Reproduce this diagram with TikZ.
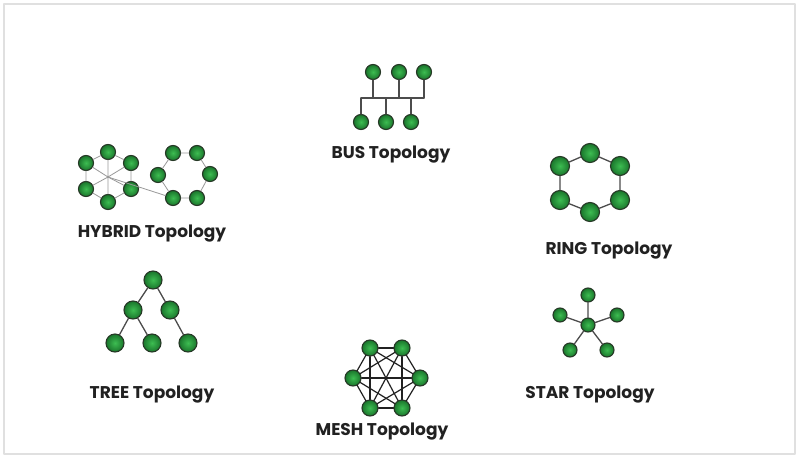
\documentclass[tikz,border=0pt]{standalone}
\usepackage{fontspec}
\setmainfont{Poppins}
\usepackage{tikz}
\usetikzlibrary{calc}
\definecolor{qqaaqq}{rgb}{0.24,0.74,0.32}
\definecolor{qqttqq}{rgb}{0.10,0.46,0.17}
\definecolor{uuuuuu}{rgb}{0.15,0.22,0.15}
\definecolor{wwwwww}{rgb}{0.30,0.30,0.30}
\definecolor{ccccvv}{rgb}{0.60,0.60,0.60}
\definecolor{eeeeee}{rgb}{0.88,0.88,0.88}
\definecolor{tttttt}{rgb}{0.13,0.13,0.13}
\tikzstyle{every node}=[font=\bfseries\fontsize{17}{19}\selectfont,text=tttttt]
\tikzstyle{host}=[circle,draw=uuuuuu,line width=1.1pt,inner sep=0pt,minimum size=15pt,inner color=qqaaqq,outer color=qqttqq]
\tikzstyle{bighost}=[host,minimum size=19pt]
\tikzstyle{wire}=[line width=1.3pt,color=wwwwww]
\tikzstyle{thinwire}=[line width=0.8pt,color=ccccvv]

\begin{document}
\begin{tikzpicture}[line cap=round,line join=round,x=1pt,y=-1pt]
\useasboundingbox (0,0) rectangle (800,461);
\fill[white] (0,0) rectangle (800,461);
\draw[line width=1.6pt,color=eeeeee] (4,4) rectangle (795,454);
% bus
\node[host] (b1) at (373,72) {};
\node[host] (b2) at (399,72) {};
\node[host] (b3) at (424,72) {};
\node[host] (b4) at (361,122) {};
\node[host] (b5) at (386,122) {};
\node[host] (b6) at (411,122) {};
\coordinate (busL) at (361,98);
\coordinate (busR) at (424,98);
\draw[wire] (busL) -- (busR);
\draw[wire] (b1) -- (b1 |- busL);
\draw[wire] (b2) -- (b2 |- busL);
\draw[wire] (b3) -- (b3 |- busL);
\draw[wire] (b4) -- (b4 |- busL);
\draw[wire] (b5) -- (b5 |- busL);
\draw[wire] (b6) -- (b6 |- busL);
\node (busname) at (391,155) {BUS Topology};
% hybrid
\coordinate (hc) at (108,177);
\node[host] (h1) at (108,152) {};
\node[host] (h2) at (131,163) {};
\node[host] (h3) at (131,189) {};
\node[host] (h4) at (108,202) {};
\node[host] (h5) at (86,189) {};
\node[host] (h6) at (86,163) {};
\node[host] (r1) at (173,153) {};
\node[host] (r2) at (197,153) {};
\node[host] (r3) at (210,174) {};
\node[host] (r4) at (197,198) {};
\node[host] (r5) at (173,198) {};
\node[host] (r6) at (158,175) {};
\draw[thinwire] (h1) -- (h2) -- (h3) -- (h4) -- (h5) -- (h6) -- (h1);
\draw[thinwire] (hc) -- (h1) (hc) -- (h2) (hc) -- (h3) (hc) -- (h4) (hc) -- (h5) (hc) -- (h6);
\draw[thinwire] (hc) -- (r5);
\draw[thinwire] (r1) -- (r2) -- (r3) -- (r4) -- (r5) -- (r6) -- (r1);
\node (hybridname) at (152,234) {HYBRID Topology};
% ring
\node[bighost] (g1) at (590,153) {};
\node[bighost] (g2) at (620,166) {};
\node[bighost] (g3) at (620,200) {};
\node[bighost] (g4) at (590,212) {};
\node[bighost] (g5) at (560,200) {};
\node[bighost] (g6) at (560,166) {};
\draw[wire] (g1) -- (g2) -- (g3) -- (g4) -- (g5) -- (g6) -- (g1);
\node (ringname) at (609,251) {RING Topology};
% tree
\node[bighost,minimum size=18pt] (t1) at (153,280) {};
\node[bighost,minimum size=18pt] (t2) at (133,310) {};
\node[bighost,minimum size=18pt] (t3) at (170,310) {};
\node[bighost,minimum size=18pt] (t4) at (115,343) {};
\node[bighost,minimum size=18pt] (t5) at (152,343) {};
\node[bighost,minimum size=18pt] (t6) at (188,343) {};
\draw[wire] (t1) -- (t2) (t1) -- (t3) (t2) -- (t4) (t2) -- (t5) (t3) -- (t6);
\node (treename) at (152,395) {TREE Topology};
% mesh
\node[host,minimum size=16pt] (m1) at (370,348) {};
\node[host,minimum size=16pt] (m2) at (402,348) {};
\node[host,minimum size=16pt] (m3) at (420,378) {};
\node[host,minimum size=16pt] (m4) at (402,408) {};
\node[host,minimum size=16pt] (m5) at (370,408) {};
\node[host,minimum size=16pt] (m6) at (353,378) {};
\foreach \i in {1,...,5}{
  \pgfmathtruncatemacro{\k}{\i+1}
  \foreach \j in {\k,...,6}
    \draw[wire,line width=1.2pt,color=tttttt] (m\i) -- (m\j);
}
\node (meshname) at (382,432) {MESH Topology};
% star
\node[host,minimum size=14pt] (s0) at (588,325) {};
\node[host,minimum size=14pt] (s1) at (588,295) {};
\node[host,minimum size=14pt] (s2) at (617,315) {};
\node[host,minimum size=14pt] (s3) at (607,350) {};
\node[host,minimum size=14pt] (s4) at (570,350) {};
\node[host,minimum size=14pt] (s5) at (560,315) {};
\draw[wire] (s0) -- (s1) (s0) -- (s2) (s0) -- (s3) (s0) -- (s4) (s0) -- (s5);
\node (starname) at (590,395) {STAR Topology};
\end{tikzpicture}
\end{document}
